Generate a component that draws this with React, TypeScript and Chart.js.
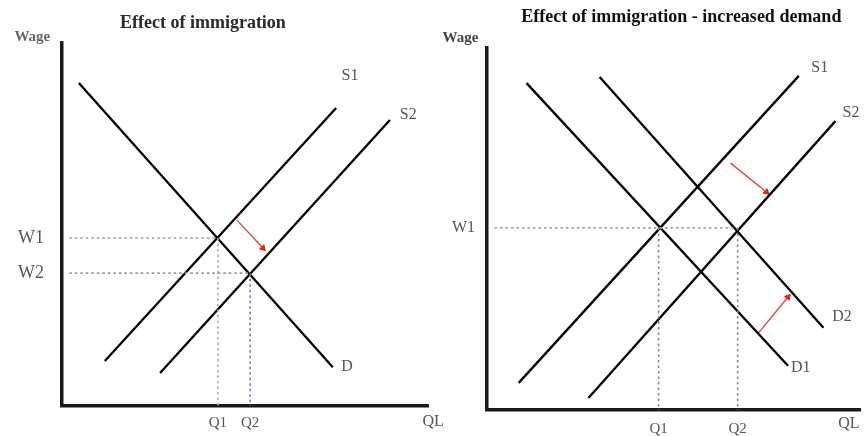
import React, { useEffect, useRef } from "react";
import { Chart, registerables } from "chart.js";

Chart.register(...registerables);

// ---------- Left panel: "Effect of immigration" (wage vs quantity of labour, 0..10 units)
const leftDemand = [{ x: 0.46, y: 8.9 }, { x: 7.4, y: 1.07 }];
const leftSupply1 = [{ x: 1.17, y: 1.24 }, { x: 7.49, y: 8.21 }];
const leftSupply2 = [{ x: 2.68, y: 0.91 }, { x: 8.96, y: 7.88 }];
const leftEquilibria = [{ x: 4.26, y: 4.63 }, { x: 5.14, y: 3.66 }]; // (Q1,W1), (Q2,W2)
const leftShiftArrow = [{ x: 4.78, y: 5.12 }, { x: 5.49, y: 4.35 }];
const leftWageTicks = ["W1", "W2"];
const leftQtyTicks = ["Q1", "Q2"];

// ---------- Right panel: "Effect of immigration - increased demand"
const rightDemand1 = [{ x: 1.06, y: 9.03 }, { x: 8.07, y: 1.22 }];
const rightDemand2 = [{ x: 3.02, y: 9.2 }, { x: 9.02, y: 2.27 }];
const rightSupply1 = [{ x: 0.85, y: 0.75 }, { x: 8.36, y: 9.23 }];
const rightSupply2 = [{ x: 2.72, y: 0.33 }, { x: 9.34, y: 7.98 }];
const rightEquilibria = [{ x: 4.6, y: 5.03 }, { x: 6.72, y: 5.03 }];
const rightSupplyArrow = [{ x: 6.53, y: 6.82 }, { x: 7.49, y: 6.02 }];
const rightDemandArrow = [{ x: 7.28, y: 2.13 }, { x: 8.07, y: 3.12 }];
const rightWageTicks = ["W1"];
const rightQtyTicks = ["Q1", "Q2"];

const SERIF = "'Liberation Serif', 'DejaVu Serif', serif";
const CANVAS_W = 865;
const CANVAS_H = 436;

type Pt = { x: number; y: number };

function curve(data: Pt[], color = "#000", width = 2.3): any {
  return {
    data,
    showLine: true,
    borderColor: color,
    borderWidth: width,
    pointRadius: 0,
    borderCapStyle: "butt",
  };
}

function dotted(data: Pt[], color: string): any {
  return {
    data,
    showLine: true,
    borderColor: color,
    borderWidth: 1.6,
    borderDash: [2.5, 3],
    pointRadius: 0,
  };
}

function arrow(data: Pt[], rotation: number): any {
  return {
    data,
    showLine: true,
    borderColor: "#e04a3a",
    borderWidth: 1.4,
    pointStyle: "triangle",
    pointRadius: [0, 3.5],
    pointRotation: [0, rotation],
    pointBackgroundColor: "#d42a1a",
    pointBorderColor: "#d42a1a",
    pointBorderWidth: 1,
  };
}

type Label = { text: string; x: number; y: number; font?: string; color?: string; align?: CanvasTextAlign };

const annotPlugin = {
  id: "annot",
  afterDraw(chart: any, _args: any, opts: any) {
    const ctx = chart.ctx as CanvasRenderingContext2D;
    const xs = chart.scales.x;
    const ys = chart.scales.y;
    ctx.save();
    (opts.labels as Label[]).forEach((l) => {
      ctx.font = l.font || `16px ${SERIF}`;
      ctx.fillStyle = l.color || "#555";
      ctx.textAlign = l.align || "center";
      ctx.textBaseline = "middle";
      ctx.fillText(l.text, xs.getPixelForValue(l.x), ys.getPixelForValue(l.y));
    });
    ctx.restore();
  },
};

type PanelCfg = {
  datasets: any[];
  padding: { left: number; top: number; right: number; bottom: number };
  yWidth: number;
  xHeight: number;
  wageValues: number[];
  wageLabels: string[];
  qtyValues: number[];
  qtyLabels: string[];
  yPad: number;
  xPad: number;
  yTickFont: number;
  xTickFont: number;
  labels: Label[];
};

function Panel({ cfg }: { cfg: PanelCfg }) {
  const ref = useRef<HTMLCanvasElement | null>(null);
  useEffect(() => {
    if (!ref.current) return;
    const chart = new Chart(ref.current, {
      type: "scatter",
      data: { datasets: cfg.datasets },
      plugins: [annotPlugin as any],
      options: {
        animation: false,
        responsive: false,
        layout: { padding: cfg.padding },
        plugins: {
          legend: { display: false },
          tooltip: { enabled: false },
          annot: { labels: cfg.labels },
        } as any,
        scales: {
          x: {
            type: "linear",
            min: 0,
            max: 10,
            grid: { display: false, drawTicks: false },
            border: { display: true, color: "#1a1a1a", width: 3.5 },
            afterBuildTicks: (s: any) => {
              s.ticks = cfg.qtyValues.map((v) => ({ value: v }));
            },
            afterFit: (s: any) => {
              s.height = cfg.xHeight;
            },
            ticks: {
              autoSkip: false,
              maxRotation: 0,
              padding: cfg.xPad,
              color: "#555",
              font: { family: SERIF, size: cfg.xTickFont },
              callback: (_v: any, i: number) => cfg.qtyLabels[i],
            },
          },
          y: {
            type: "linear",
            min: 0,
            max: 10,
            grid: { display: false, drawTicks: false },
            border: { display: true, color: "#1a1a1a", width: 3.5 },
            afterBuildTicks: (s: any) => {
              s.ticks = cfg.wageValues.map((v) => ({ value: v }));
            },
            afterFit: (s: any) => {
              s.width = cfg.yWidth;
            },
            ticks: {
              autoSkip: false,
              padding: cfg.yPad,
              color: "#555",
              font: { family: SERIF, size: cfg.yTickFont },
              callback: (_v: any, i: number) => cfg.wageLabels[i],
            },
          },
        },
      },
    });
    return () => chart.destroy();
  }, [cfg]);
  return (
    <canvas
      ref={ref}
      width={CANVAS_W}
      height={CANVAS_H}
      style={{ position: "absolute", left: 0, top: 0, width: CANVAS_W, height: CANVAS_H }}
    />
  );
}

const GUIDE_START = 0.2;

const leftCfg: PanelCfg = {
  datasets: [
    dotted([{ x: GUIDE_START, y: leftEquilibria[0].y }, leftEquilibria[0]], "#9a9a9a"),
    dotted([{ x: GUIDE_START, y: leftEquilibria[1].y }, leftEquilibria[1]], "#9a9a9a"),
    dotted([leftEquilibria[0], { x: leftEquilibria[0].x, y: 0 }], "#a8a8cc"),
    dotted([leftEquilibria[1], { x: leftEquilibria[1].x, y: 0 }], "#7a7ab0"),
    curve(leftDemand),
    curve(leftSupply1),
    curve(leftSupply2),
    arrow(leftShiftArrow, 137),
  ],
  padding: { left: 0, top: 43, right: CANVAS_W - 428, bottom: 0 },
  yWidth: 62,
  xHeight: CANVAS_H - 406,
  wageValues: leftEquilibria.map((e) => e.y),
  wageLabels: leftWageTicks,
  qtyValues: leftEquilibria.map((e) => e.x),
  qtyLabels: leftQtyTicks,
  yPad: 18,
  xPad: 8,
  yTickFont: 18,
  xTickFont: 15,
  labels: [
    { text: "Effect of immigration", x: 3.85, y: 10.55, font: `bold 18px ${SERIF}`, color: "#2a2a2a" },
    { text: "Wage", x: -0.81, y: 10.17, font: `bold 15px ${SERIF}`, color: "#666" },
    { text: "S1", x: 7.87, y: 9.09 },
    { text: "S2", x: 9.46, y: 8.02 },
    { text: "D", x: 7.79, y: 1.08 },
    { text: "QL", x: 10.14, y: -0.44 },
  ],
};

const rightCfg: PanelCfg = {
  datasets: [
    dotted([{ x: GUIDE_START, y: rightEquilibria[1].y }, rightEquilibria[1]], "#a0a0a0"),
    dotted([rightEquilibria[0], { x: rightEquilibria[0].x, y: 0 }], "#8a8a8a"),
    dotted([rightEquilibria[1], { x: rightEquilibria[1].x, y: 0 }], "#8a8a8a"),
    curve(rightDemand1),
    curve(rightDemand2),
    curve(rightSupply1),
    curve(rightSupply2),
    arrow(rightSupplyArrow, 129),
    arrow(rightDemandArrow, 40),
  ],
  padding: { left: 427, top: 48, right: 0, bottom: 0 },
  yWidth: 60,
  xHeight: CANVAS_H - 410,
  wageValues: [rightEquilibria[0].y],
  wageLabels: rightWageTicks,
  qtyValues: rightEquilibria.map((e) => e.x),
  qtyLabels: rightQtyTicks,
  yPad: 12,
  xPad: 10,
  yTickFont: 16,
  xTickFont: 15,
  labels: [
    {
      text: "Effect of immigration - increased demand",
      x: 5.21,
      y: 10.85,
      font: `bold 18px ${SERIF}`,
      color: "#111",
    },
    { text: "Wage", x: -0.71, y: 10.28, font: `bold 15px ${SERIF}`, color: "#444" },
    { text: "S1", x: 8.92, y: 9.45 },
    { text: "S2", x: 9.76, y: 8.2 },
    { text: "D2", x: 9.52, y: 2.57 },
    { text: "D1", x: 8.41, y: 1.16 },
    { text: "QL", x: 9.7, y: -0.39 },
  ],
};

export default function App() {
  return (
    <div
      style={{
        position: "absolute",
        left: 0,
        top: 0,
        width: CANVAS_W,
        height: CANVAS_H,
        background: "#fff",
        overflow: "hidden",
      }}
    >
      <Panel cfg={leftCfg} />
      <Panel cfg={rightCfg} />
    </div>
  );
}
